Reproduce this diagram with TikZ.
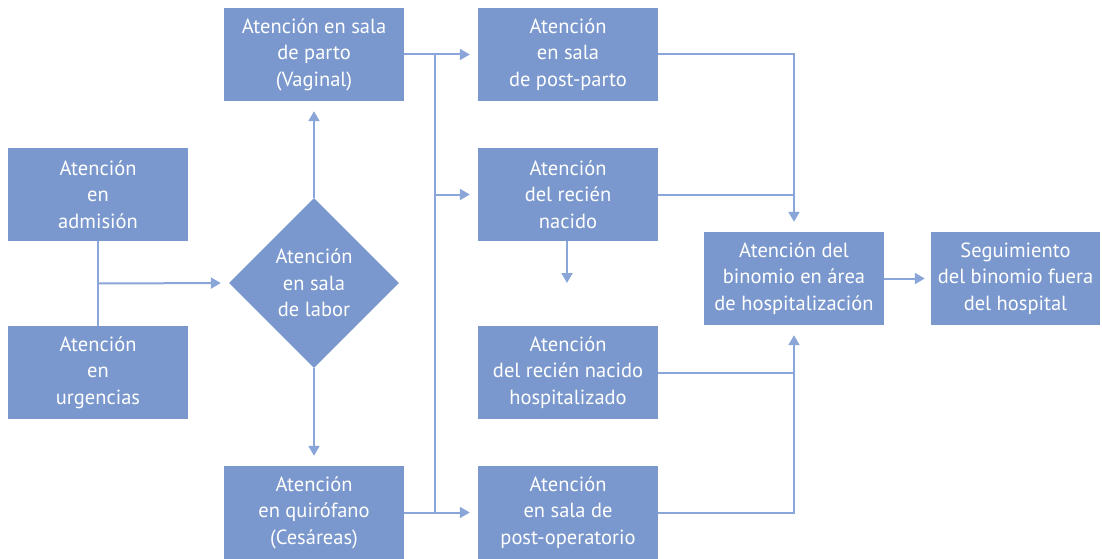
\documentclass[tikz,border=0pt]{standalone}
\usepackage{fontspec}
\setmainfont{PT Sans}
\usetikzlibrary{arrows.meta, calc, shapes.geometric}

\definecolor{boxblue}{RGB}{122,152,205}
\definecolor{lineblue}{RGB}{138,165,216}

\begin{document}
\begin{tikzpicture}[x=1pt,y=-1pt,
  box/.style={fill=boxblue, text=white, minimum width=180pt, minimum height=93pt,
    inner sep=2pt, align=center, font=\fontsize{20.5}{26.5}\selectfont},
  decision/.style={diamond, fill=boxblue, text=white, minimum width=170pt,
    minimum height=170pt, inner sep=0pt, aspect=1, align=center,
    font=\fontsize{20.5}{26.5}\selectfont},
  link/.style={draw=lineblue, line width=2pt},
  arrow/.style={link, -{Triangle[length=10pt,width=11pt]}, shorten >=8pt}]
% Frame of the picture
\useasboundingbox (0,0) rectangle (1102,559);
% Entry boxes
\node [box] (admision) at (98,194.5) {Atención\\en\\admisión};
\node [box] (urgencias) at (98,372.5) {Atención\\en\\urgencias};
% Labour ward
\node [decision] (labor) at (314,283) {Atención\\en sala\\de labor};
% Delivery and surgery
\node [box] (parto) at (314,54.5) {Atención en sala\\de parto\\(Vaginal)};
\node [box] (quirofano) at (314,512.5) {Atención\\en quirófano\\(Cesáreas)};
% Third column
\node [box] (postparto) at (568,54.5) {Atención\\en sala\\de post-parto};
\node [box] (nacido) at (568,194.5) {Atención\\del recién\\nacido};
\node [box] (hospitalizado) at (568,372.5) {Atención\\del recién nacido\\hospitalizado};
\node [box] (postop) at (568,512.5) {Atención\\en sala de\\post-operatorio};
% Last two boxes
\node [box] (binomio) at (794,278.5) {Atención del\\binomio en área\\de hospitalización};
\node [box, minimum width=169pt] (seguimiento) at (1015.5,278.5) {Seguimiento\\del binomio fuera\\del hospital};
% Vertical bus between the second and third columns
\coordinate (bus) at (435,0);
\coordinate (nacidoend) at (567,283);
% Entry boxes join and go to the labour ward
\draw [link] (admision.south) -- (urgencias.north);
\draw [arrow] ($(admision.south)!.5!(urgencias.north)$) -- (labor.west);
\draw [arrow, shorten >=10pt] (labor.north) -- (parto.south);
\draw [arrow, shorten >=10pt] (labor.south) -- (quirofano.north);
% Bus to the third column
\draw [link] (parto.east -| bus) -- (quirofano.east -| bus);
\draw [arrow] (parto.east) -- (postparto.west);
\draw [arrow] (bus |- nacido.west) -- (nacido.west);
\draw [arrow] (quirofano.east) -- (postop.west);
\draw [arrow, shorten >=0pt] (nacido.south -| nacidoend) -- (nacidoend);
% Third column into the hospital ward
\draw [arrow, shorten >=10pt] (postparto.east) -| (binomio.north);
\draw [link] (nacido.east) -- (nacido.east -| binomio.north);
\draw [link] (hospitalizado.east) -- (hospitalizado.east -| binomio.south);
\draw [arrow, shorten >=10pt] (postop.east) -| (binomio.south);
\draw [arrow, shorten >=6pt] (binomio.east) -- (seguimiento.west);
\end{tikzpicture}
\end{document}
